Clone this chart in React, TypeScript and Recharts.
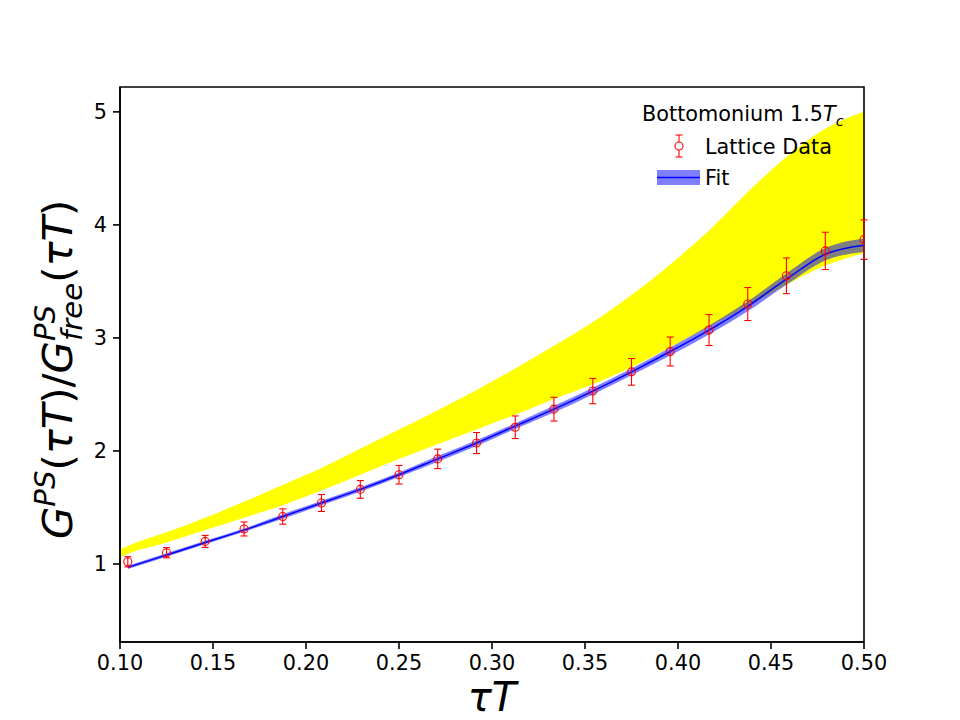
import { Area, ComposedChart, ErrorBar, Line, ReferenceArea, Scatter, XAxis, YAxis } from 'recharts'

// lattice points sit on tau*T = n/48, n = 5..24
const tauT = [0.1042, 0.125, 0.1458, 0.1667, 0.1875, 0.2083, 0.2292, 0.25, 0.2708, 0.2917, 0.3125, 0.3333, 0.3542, 0.375, 0.3958, 0.4167, 0.4375, 0.4583, 0.4792, 0.5]
const lattice = [1.02, 1.1, 1.2, 1.31, 1.42, 1.54, 1.66, 1.79, 1.93, 2.07, 2.21, 2.37, 2.53, 2.7, 2.88, 3.07, 3.3, 3.55, 3.77, 3.87]
const latticeErr = [0.045, 0.045, 0.053, 0.062, 0.068, 0.075, 0.078, 0.082, 0.086, 0.093, 0.1, 0.105, 0.112, 0.118, 0.128, 0.137, 0.146, 0.158, 0.165, 0.175]

// fitted ratio with its uncertainty band
const fitMid = [0.97, 1.08, 1.19, 1.3, 1.42, 1.54, 1.66, 1.79, 1.93, 2.07, 2.22, 2.37, 2.53, 2.7, 2.88, 3.07, 3.28, 3.52, 3.74, 3.82]
const fitLo = [0.955, 1.065, 1.175, 1.285, 1.4, 1.52, 1.64, 1.77, 1.905, 2.045, 2.195, 2.34, 2.5, 2.67, 2.845, 3.03, 3.235, 3.47, 3.685, 3.76]
const fitHi = [0.985, 1.095, 1.205, 1.315, 1.44, 1.56, 1.68, 1.81, 1.955, 2.095, 2.245, 2.4, 2.56, 2.73, 2.915, 3.11, 3.325, 3.57, 3.795, 3.88]

// yellow reference band
const bandTau = [0.1, 0.1042, 0.125, 0.1458, 0.1667, 0.1875, 0.2083, 0.2292, 0.25, 0.2708, 0.2917, 0.3125, 0.3333, 0.3542, 0.375, 0.3958, 0.4167, 0.4375, 0.4583, 0.4792, 0.5]
const bandLo = [1.06, 1.09, 1.19, 1.3, 1.41, 1.52, 1.65, 1.79, 1.93, 2.06, 2.19, 2.32, 2.46, 2.59, 2.74, 2.92, 3.1, 3.28, 3.47, 3.64, 3.75]
const bandHi = [1.13, 1.16, 1.28, 1.41, 1.55, 1.7, 1.85, 2.02, 2.19, 2.36, 2.54, 2.73, 2.93, 3.14, 3.38, 3.65, 3.95, 4.29, 4.6, 4.85, 5.0]

const xTicks = [0.1, 0.15, 0.2, 0.25, 0.3, 0.35, 0.4, 0.45, 0.5]
const yTicks = [1, 2, 3, 4, 5]

const FONT = '"DejaVu Sans", sans-serif'
const RED = '#ff0000'
const BLUE = '#0000ff'

const rows = bandTau.map((x, i) => {
  const j = tauT.indexOf(x)
  return {
    x,
    band: [bandLo[i], bandHi[i]],
    fitBand: j >= 0 ? [fitLo[j], fitHi[j]] : undefined,
    fit: j >= 0 ? fitMid[j] : undefined,
  }
})

const points = tauT.map((x, i) => ({ x, y: lattice[i], err: latticeErr[i] }))

function Ring(props: any) {
  const { cx, cy } = props
  if (cx == null || cy == null) return null
  return <circle cx={cx} cy={cy} r={4} fill="none" stroke={RED} strokeWidth={1.1} />
}

function Labels() {
  return (
    <svg width={960} height={720} style={{ position: 'absolute', left: 0, top: 0, pointerEvents: 'none' }} fontFamily={FONT}>
      {/* y axis label */}
      <g transform="translate(72, 539) rotate(-90)">
        <text x={0} y={0} fontSize={41.7} fill="#000">
          <tspan fontStyle="italic">G</tspan>
          <tspan fontStyle="italic" fontSize={29.2} dy={-17}>PS</tspan>
          <tspan dy={17}>(</tspan>
          <tspan fontStyle="italic">τT</tspan>
          <tspan>)/</tspan>
          <tspan fontStyle="italic">G</tspan>
          <tspan fontStyle="italic" fontSize={29.2} dy={-17}>PS</tspan>
          <tspan fontStyle="italic" fontSize={29.2} dx={-36} dy={27}>free</tspan>
          <tspan dy={-10}>(</tspan>
          <tspan fontStyle="italic">τT</tspan>
          <tspan>)</tspan>
        </text>
      </g>
      {/* x axis label */}
      <text x={492} y={711} fontSize={40} fontStyle="italic" textAnchor="middle" fill="#000">τT</text>

      {/* legend */}
      <text x={642} y={121} fontSize={20.8} fill="#000">
        Bottomonium 1.5<tspan fontStyle="italic">T</tspan>
        <tspan fontStyle="italic" fontSize={14.6} dy={5}>c</tspan>
      </text>
      <line x1={679} y1={135} x2={679} y2={157} stroke={RED} strokeWidth={1.1} />
      <line x1={675.5} y1={135} x2={682.5} y2={135} stroke={RED} strokeWidth={1.1} />
      <line x1={675.5} y1={157} x2={682.5} y2={157} stroke={RED} strokeWidth={1.1} />
      <circle cx={679} cy={146} r={4} fill="#fff" stroke={RED} strokeWidth={1.1} />
      <text x={705} y={154} fontSize={20.8} fill="#000">Lattice Data</text>
      <rect x={657} y={170} width={43} height={15} fill={BLUE} fillOpacity={0.5} />
      <line x1={657} y1={177.5} x2={700} y2={177.5} stroke={BLUE} strokeWidth={1.5} />
      <text x={705} y={184.5} fontSize={20.8} fill="#000">Fit</text>
    </svg>
  )
}

export default function App() {
  const tick = { fill: '#000', fontSize: 20.8, fontFamily: FONT }
  return (
    <div style={{ position: 'absolute', left: 0, top: 0, width: 960, height: 720, background: '#fff' }}>
      <ComposedChart width={960} height={720} data={rows} margin={{ top: 87, right: 96, bottom: 38, left: 60 }}>
        <XAxis
          dataKey="x"
          type="number"
          domain={[0.1, 0.5]}
          ticks={xTicks}
          allowDataOverflow
          height={40}
          tickSize={7}
          tickMargin={6}
          tick={tick}
          tickFormatter={(v: number) => v.toFixed(2)}
          axisLine={{ stroke: '#000', strokeWidth: 1.6 }}
          tickLine={{ stroke: '#000', strokeWidth: 1.6 }}
        />
        <YAxis
          type="number"
          domain={[0.31, 5.22]}
          ticks={yTicks}
          allowDataOverflow
          width={60}
          tickSize={7}
          tickMargin={6}
          tick={tick}
          axisLine={{ stroke: '#000', strokeWidth: 1.6 }}
          tickLine={{ stroke: '#000', strokeWidth: 1.6 }}
        />
        <Area dataKey="band" type="monotone" fill="#ffff00" fillOpacity={1} stroke="none" isAnimationActive={false} />
        <Area dataKey="fitBand" type="monotone" fill={BLUE} fillOpacity={0.5} stroke="none" isAnimationActive={false} />
        <Line dataKey="fit" type="monotone" stroke={BLUE} strokeWidth={1.5} dot={false} activeDot={false} isAnimationActive={false} />
        <Scatter data={points} dataKey="y" shape={Ring} isAnimationActive={false}>
          <ErrorBar dataKey="err" direction="y" width={3.5} stroke={RED} strokeWidth={1.1} />
        </Scatter>
        <ReferenceArea x1={0.1} x2={0.5} y1={0.31} y2={5.22} fill="none" stroke="#000" strokeWidth={1.6} />
      </ComposedChart>
      <Labels />
    </div>
  )
}
